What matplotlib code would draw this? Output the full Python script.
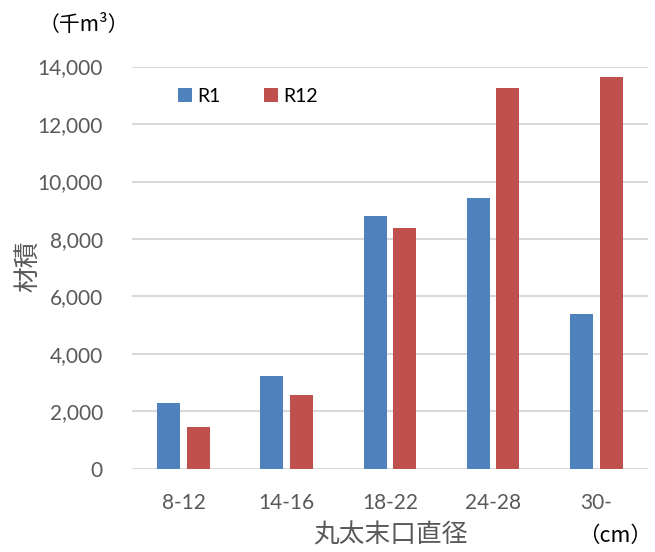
import matplotlib
matplotlib.use('Agg')
import matplotlib.pyplot as plt
import numpy as np

# 丸太末口直径クラス別の材積（千m3）
classes = ["8-12", "14-16", "18-22", "24-28", "30-"]
r1 = [2300, 3240, 8800, 9440, 5390]
r12 = [1470, 2560, 8380, 13260, 13630]
yticks = [0, 2000, 4000, 6000, 8000, 10000, 12000, 14000]

blue = "#4f81bd"
red = "#c0504d"
grey = "#595959"
jp = ["Noto Sans CJK JP", "DejaVu Sans"]
num = ["Lato", "DejaVu Sans"]

fig = plt.figure(figsize=(6.55, 5.52), dpi=100)
ax = fig.add_axes([0.2015, 0.1504, 0.7875, 0.7291])

x = np.arange(len(classes))
w = 0.223
off = 0.144
ax.bar(x - off, r1, w, color=blue, label="R1", zorder=3)
ax.bar(x + off, r12, w, color=red, label="R12", zorder=3)

ax.set_xlim(-0.5, len(classes) - 0.5)
ax.set_ylim(0, 14000)
ax.set_yticks(yticks)
ax.set_yticklabels([f"{v:,}" for v in yticks], family=num, fontsize=15, color=grey)
ax.set_xticks(x)
ax.set_xticklabels(classes, family=num, fontsize=15, color=grey)
ax.tick_params(axis='both', length=0)
ax.tick_params(axis='y', pad=21)
ax.tick_params(axis='x', pad=17)

ax.grid(axis='y', color="#d9d9d9", linewidth=1.5, zorder=0)
for s in ax.spines.values():
    s.set_visible(False)

leg = ax.legend(loc='upper left', bbox_to_anchor=(0.055, 0.99), ncol=2, frameon=False,
                handlelength=0.72, handleheight=0.72, handletextpad=0.3,
                columnspacing=2.2, prop={'family': num, 'size': 14})

fig.text(0.043, 0.518, "材積", rotation=90, ha='center', va='center',
         family=jp, fontsize=18.5, color=grey)
fig.text(0.596, 0.029, "丸太末口直径", ha='center', va='center',
         family=jp, fontsize=18.5, color=grey)
fig.text(0.996, 0.029, "（cm）", ha='right', va='center',
         family=jp, fontsize=15.5, color="black")
fig.text(0.128, 0.955, "（千m³）", ha='center', va='center',
         family=jp, fontsize=15, color="black")

fig.savefig("out.png", dpi=100)
